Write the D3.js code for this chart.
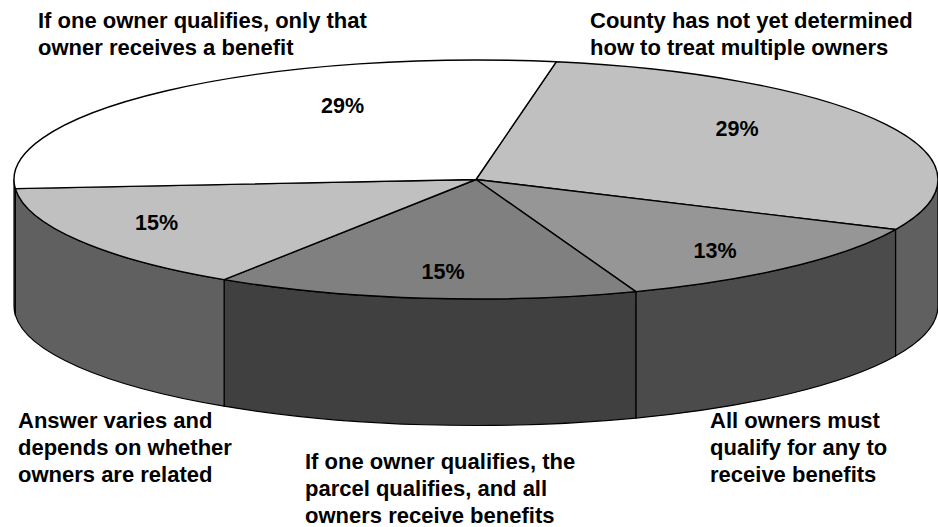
<!DOCTYPE html>
<html><head><meta charset="utf-8">
<script src="https://cdn.jsdelivr.net/npm/d3@7/dist/d3.min.js"></script>
<style>html,body{margin:0;padding:0;background:#fff}svg{display:block}
text{font-family:"Liberation Sans",Arial,sans-serif;font-weight:bold;fill:#000}</style>
</head><body><svg id="c" width="938" height="527"></svg>
<script>
const categories = [
  "County has not yet determined|how to treat multiple owners",
  "All owners must|qualify for any to|receive benefits",
  "If one owner qualifies, the|parcel qualifies, and all|owners receive benefits",
  "Answer varies and|depends on whether|owners are related",
  "If one owner qualifies, only that|owner receives a benefit"
];
const values = [29.1, 12.5, 14.8, 14.6, 29.0];
const topColors = ["#c0c0c0", "#969696", "#808080", "#c0c0c0", "#ffffff"];
const sideColors = ["#606060", "#4b4b4b", "#404040", "#606060", "#808080"];
const labelPos = [[590,27.5],[710,428],[305,469],[18,428],[38,28]];
const pctPos = [[737,135.5],[715,258],[443,279],[156.5,230],[342.5,112.5]];

const W=938,H=527,cx=476,cy=179.5,rx=462,ry=119.5,depth=126.5;
const svg=d3.select("#c");
const start=10*Math.PI/180;
const arcs=d3.pie().sort(null).value(d=>d).startAngle(start).endAngle(start+2*Math.PI)(values);
const px=t=>cx+rx*Math.sin(t), py=t=>cy-ry*Math.cos(t);
const num=v=>v.toFixed(2);

function wall(a0,a1){
  return `M${num(px(a0))},${num(py(a0))}A${rx},${ry} 0 0 1 ${num(px(a1))},${num(py(a1))}`+
         `L${num(px(a1))},${num(py(a1)+depth)}A${rx},${ry} 0 0 0 ${num(px(a0))},${num(py(a0)+depth)}Z`;
}
const lo=Math.PI/2, hi=3*Math.PI/2;
const walls=arcs.map((d,i)=>({a0:Math.max(d.startAngle,lo),a1:Math.min(d.endAngle,hi),i})).filter(d=>d.a1>d.a0);
svg.append("g").selectAll("path").data(walls).join("path")
  .attr("d",d=>wall(d.a0,d.a1)).attr("fill",d=>sideColors[d.i])
  .attr("stroke","#000").attr("stroke-width",1.2).attr("stroke-linejoin","round");

function wedge(d){
  const large=(d.endAngle-d.startAngle)>Math.PI?1:0;
  return `M${cx},${cy}L${num(px(d.startAngle))},${num(py(d.startAngle))}A${rx},${ry} 0 ${large} 1 ${num(px(d.endAngle))},${num(py(d.endAngle))}Z`;
}
svg.append("g").selectAll("path").data(arcs).join("path")
  .attr("d",wedge).attr("fill",(d,i)=>topColors[i])
  .attr("stroke","#000").attr("stroke-width",1.4).attr("stroke-linejoin","round");

svg.append("g").selectAll("text").data(values).join("text")
  .attr("x",(d,i)=>pctPos[i][0]).attr("y",(d,i)=>pctPos[i][1])
  .attr("text-anchor","middle").attr("font-size",21.5).text(d=>Math.round(d)+"%");

const g=svg.append("g");
categories.forEach((c,i)=>{
  const t=g.append("text").attr("x",labelPos[i][0]).attr("y",labelPos[i][1]).attr("font-size",22);
  c.split("|").forEach((s,k)=>t.append("tspan").attr("x",labelPos[i][0]).attr("dy",k?27:0).text(s));
});
</script></body></html>
